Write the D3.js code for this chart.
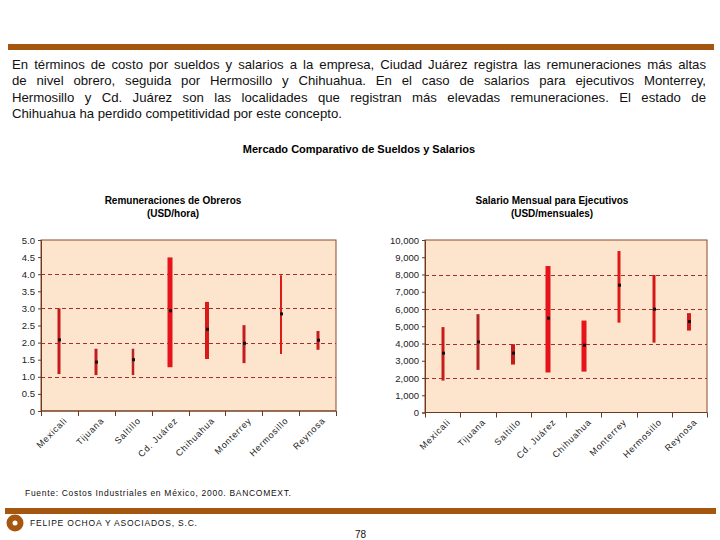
<!DOCTYPE html>
<html><head><meta charset="utf-8">
<script src="https://cdn.jsdelivr.net/npm/d3@7"></script>
<style>
body{margin:0;background:#fff;width:720px;height:540px;overflow:hidden;font-family:"Liberation Sans",Arial,sans-serif;}
#para{position:absolute;left:12px;top:57px;width:694px;font-size:13.2px;line-height:16.4px;color:#111;}
#para div{text-align:justify;text-align-last:justify;white-space:nowrap;}
#para div.last{text-align-last:left;}
svg{position:absolute;left:0;top:0;}
</style></head>
<body>
<svg id="chart" width="720" height="540"></svg>
<div id="para"></div>
<script>
const categories = ["Mexicali","Tijuana","Saltillo","Cd. Juárez","Chihuahua","Monterrey","Hermosillo","Reynosa"];
const obrerosLow  = [1.08, 1.05, 1.05, 1.28, 1.52, 1.40, 1.67, 1.79];
const obrerosHigh = [3.00, 1.82, 1.82, 4.49, 3.19, 2.51, 3.97, 2.34];
const obrerosMid  = [2.08, 1.43, 1.50, 2.93, 2.39, 1.98, 2.84, 2.07];
const ejecLow  = [1850, 2470, 2780, 2320, 2370, 5210, 4050, 4750];
const ejecHigh = [4950, 5700, 3960, 8490, 5330, 9360, 7970, 5760];
const ejecMid  = [3440, 4090, 3440, 5470, 3900, 7380, 5990, 5270];
const obrerosTicks = [0,0.5,1,1.5,2,2.5,3,3.5,4,4.5,5];
const ejecTicks = [0,1000,2000,3000,4000,5000,6000,7000,8000,9000,10000];
const obrerosGrid = [1,2,3,4];
const ejecGrid = [2000,4000,6000,8000];

const paragraph = [
 "En términos de costo por sueldos y salarios a la empresa, Ciudad Juárez registra las remuneraciones más altas",
 "de nivel obrero, seguida por Hermosillo y Chihuahua. En el caso de salarios para ejecutivos Monterrey,",
 "Hermosillo y Cd. Juárez son las localidades que registran más elevadas remuneraciones. El estado de",
 "Chihuahua ha perdido competitividad por este concepto."
];

// styles (not data)
const leftStyle  = {w:[3,3,2.5,5,4,3,2,3], c:["#c8181c","#c41c1c","#b82222","#e4141a","#d81a1a","#c41c1c","#e01818","#c81c1c"]};
const rightStyle = {w:[3,3,4,5,5,3,3,4],   c:["#c81c1c","#b02424","#c41c1c","#e4141a","#e4141a","#e01818","#d41818","#d01c1c"]};

d3.select("#para").selectAll("div").data(paragraph).join("div")
  .attr("class",(d,i)=>i===paragraph.length-1?"last":null).text(d=>d);

const svg = d3.select("#chart");
const brown = "#a5560f";
svg.append("rect").attr("x",8).attr("y",44).attr("width",706).attr("height",6).attr("fill",brown);
svg.append("text").attr("x",359).attr("y",153).attr("text-anchor","middle")
  .style("font-size","11px").style("font-weight","bold").attr("fill","#000")
  .text("Mercado Comparativo de Sueldos y Salarios");

function panel(cfg){
  const x = d3.scaleBand().domain(categories).range([cfg.x0,cfg.x1]);
  const y = d3.scaleLinear().domain(cfg.domain).range([cfg.y0,cfg.y1]);
  const g = svg.append("g");
  cfg.title.forEach((t,i)=>g.append("text").attr("x",cfg.tx).attr("y",204+i*13).attr("text-anchor","middle")
     .style("font-size","10px").style("font-weight","bold").attr("fill","#000").text(t));
  g.append("rect").attr("x",cfg.x0).attr("y",cfg.y1).attr("width",cfg.x1-cfg.x0).attr("height",cfg.y0-cfg.y1)
    .attr("fill","#fde4cc").attr("stroke","#8a4a2a").attr("stroke-width",1);
  g.selectAll("line.grid").data(cfg.grid).join("line").attr("class","grid")
    .attr("x1",cfg.x0).attr("x2",cfg.x1).attr("y1",d=>Math.round(y(d))+0.5).attr("y2",d=>Math.round(y(d))+0.5)
    .attr("stroke","#a8302a").attr("stroke-width",1).attr("stroke-dasharray","4,3");
  // y axis
  const ya = g.append("g").attr("transform",`translate(${cfg.x0},0)`)
    .call(d3.axisLeft(y).tickValues(cfg.ticks).tickSize(3).tickPadding(3).tickFormat(cfg.fmt));
  ya.select(".domain").attr("stroke","#6b3a1f");
  ya.selectAll(".tick line").attr("stroke","#6b3a1f");
  ya.selectAll("text").style("font-size","9.5px").style("font-family","'Liberation Sans',Arial,sans-serif").attr("fill","#222");
  // x axis
  const xa = g.append("g").attr("transform",`translate(0,${cfg.y0})`);
  xa.append("line").attr("x1",cfg.x0).attr("x2",cfg.x1).attr("stroke","#6b3a1f");
  const bounds = categories.map(c=>x(c)).concat([cfg.x1]);
  xa.selectAll("line.t").data(bounds).join("line").attr("class","t")
    .attr("x1",d=>Math.round(d)+0.5).attr("x2",d=>Math.round(d)+0.5).attr("y1",0).attr("y2",5).attr("stroke","#6b3a1f");
  xa.selectAll("text").data(categories).join("text")
    .attr("transform",d=>`translate(${x(d)+x.bandwidth()/2+6},${8}) rotate(-45)`)
    .attr("text-anchor","end").attr("dy","0.35em")
    .style("font-size","9px").style("letter-spacing","0.8px").attr("fill","#222").text(d=>d);
  // bars
  const cx = c=>Math.round(x(c)+x.bandwidth()/2);
  g.selectAll("line.bar").data(categories).join("line").attr("class","bar")
    .attr("x1",cx).attr("x2",cx)
    .attr("y1",(c,i)=>y(cfg.low[i])).attr("y2",(c,i)=>y(cfg.high[i]))
    .attr("stroke",(c,i)=>cfg.style.c[i]).attr("stroke-width",(c,i)=>cfg.style.w[i]);
  g.selectAll("rect.mk").data(categories).join("rect").attr("class","mk")
    .attr("x",c=>cx(c)-1).attr("y",(c,i)=>y(cfg.mid[i])-1.5).attr("width",3).attr("height",3).attr("fill","#111");
}

panel({x0:41,x1:336,y0:411,y1:240,domain:[0,5],ticks:obrerosTicks,grid:obrerosGrid,
  fmt:d=>d===0?"0":d3.format(".1f")(d),low:obrerosLow,high:obrerosHigh,mid:obrerosMid,style:leftStyle,
  tx:173,title:["Remuneraciones de Obreros","(USD/hora)"]});
panel({x0:425,x1:707,y0:412.5,y1:240,domain:[0,10000],ticks:ejecTicks,grid:ejecGrid,
  fmt:d=>d===0?"0":d3.format(",")(d),low:ejecLow,high:ejecHigh,mid:ejecMid,style:rightStyle,
  tx:552,title:["Salario Mensual para Ejecutivos","(USD/mensuales)"]});

// footer
svg.append("text").attr("x",25).attr("y",496).style("font-size","8.5px").style("letter-spacing","0.7px").attr("fill","#111")
  .text("Fuente: Costos Industriales en México, 2000. BANCOMEXT.");
svg.append("rect").attr("x",5).attr("y",508).attr("width",711).attr("height",6).attr("fill",brown);
svg.append("circle").attr("cx",15).attr("cy",523).attr("r",8.5).attr("fill",brown);
svg.append("circle").attr("cx",15).attr("cy",523).attr("r",2.5).attr("fill","#fff");
svg.append("text").attr("x",30).attr("y",526).style("font-size","8.5px").style("letter-spacing","0.8px").attr("fill","#111")
  .text("FELIPE OCHOA Y ASOCIADOS, S.C.");
svg.append("text").attr("x",355).attr("y",538).style("font-size","10px").attr("fill","#111").text("78");
</script>
</body></html>
